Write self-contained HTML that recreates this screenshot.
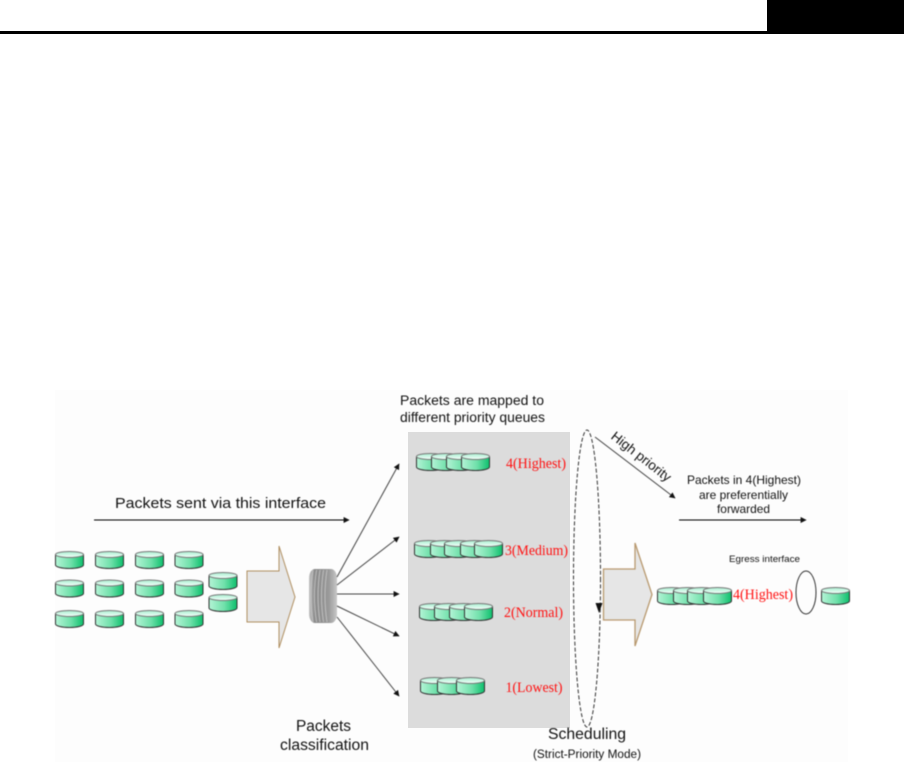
<!DOCTYPE html>
<html><head><meta charset="utf-8"><style>
html,body{margin:0;padding:0;background:#fff;width:904px;height:762px;overflow:hidden}
svg{display:block}
.a{font-family:"Liberation Sans",sans-serif;fill:#111}
.r{font-family:"Liberation Serif",serif;fill:#f11;font-size:14.500px}
.s{filter:blur(.4px)}
</style></head><body>
<svg width="904" height="762" viewBox="0 0 904 762" xmlns="http://www.w3.org/2000/svg">
<defs>
<linearGradient id="g" x1="0" x2="1" y1="0" y2="0"><stop offset="0" stop-color="#b4f4d6"/><stop offset=".55" stop-color="#6fe0aa"/><stop offset="1" stop-color="#0cbf6c"/></linearGradient>
<linearGradient id="t" x1="0" x2="0" y1="0" y2="1"><stop offset="0" stop-color="#a8efd0"/><stop offset="1" stop-color="#f6fffb"/></linearGradient>
<linearGradient id="c" x1="0" x2="1" y1="0" y2="0"><stop offset="0" stop-color="#c4c4c4"/><stop offset=".2" stop-color="#8a8a8a"/><stop offset=".7" stop-color="#999"/><stop offset="1" stop-color="#c8c8c8"/></linearGradient>
<g id="d"><path d="M.5 3.500V14C.5 16 7 17.500 14.500 17.500S28.500 16 28.500 14V3.500Z" fill="url(#g)" stroke="#333" stroke-width="1"/><ellipse cx="14.500" cy="3.500" rx="14" ry="3" fill="url(#t)" stroke="#777" stroke-width="1"/></g>
<marker id="m" viewBox="0 0 10 10" refX="9" refY="5" markerWidth="7" markerHeight="6" markerUnits="userSpaceOnUse" orient="auto"><path d="M0 0L10 5L0 10Z" fill="#111"/></marker>
</defs>
<rect x="55" y="390" width="793" height="372" fill="#fdfdfd"/>
<rect x="0" y="31" width="904" height="3" fill="#000"/>
<rect x="767" y="0" width="137" height="34" fill="#000"/>
<rect x="408" y="432" width="162" height="296" fill="#dcdcdc"/>
<g class="s">
<use href="#d" x="55" y="551"/><use href="#d" x="95" y="551"/><use href="#d" x="135" y="551"/><use href="#d" x="174.500" y="551"/>
<use href="#d" x="55" y="579.500"/><use href="#d" x="95" y="579.500"/><use href="#d" x="135" y="579.500"/><use href="#d" x="174.500" y="579.500"/>
<use href="#d" x="55" y="610"/><use href="#d" x="95" y="610"/><use href="#d" x="135" y="610"/><use href="#d" x="174.500" y="610"/>
<use href="#d" x="208.500" y="572"/><use href="#d" x="208.500" y="594"/>

<polygon points="247,571 279,571 279,546 295,597 279,648 279,622 247,622" fill="#e6e6e6" stroke="#b08f60" stroke-width="1"/>
<polygon points="603.500,569 635,569 635,543 652,594.500 635,646 635,620 603.500,620" fill="#e6e6e6" stroke="#b8996f" stroke-width="1.300"/>

<rect x="309" y="569" width="28" height="54" rx="6" ry="9" fill="url(#c)"/>
<g stroke="#c8c8c8" stroke-width=".8" fill="none"><path d="M313 570Q309 596 313 622M316.500 570Q312.500 596 316.500 622M320 570Q316 596 320 622M323.500 570Q319.500 596 323.500 622M327 570Q323 596 327 622"/></g>

<g stroke="#444" stroke-width="1" fill="none">
<line x1="337" y1="577" x2="399" y2="464" marker-end="url(#m)"/>
<line x1="337" y1="585" x2="399" y2="537" marker-end="url(#m)"/>
<line x1="337" y1="594" x2="399" y2="594" marker-end="url(#m)"/>
<line x1="337" y1="606" x2="399" y2="636" marker-end="url(#m)"/>
<line x1="337" y1="617" x2="399" y2="696" marker-end="url(#m)"/>
<line x1="94" y1="520" x2="349" y2="520" stroke="#000" marker-end="url(#m)"/>
<line x1="679" y1="520" x2="806" y2="520" stroke="#000" marker-end="url(#m)"/>
<line x1="595" y1="437" x2="675" y2="498" marker-end="url(#m)"/>
</g>

<use href="#d" x="416" y="453"/><use href="#d" x="431" y="453"/><use href="#d" x="446" y="453"/><use href="#d" x="461" y="453"/>
<use href="#d" x="414" y="540"/><use href="#d" x="430" y="540"/><use href="#d" x="444" y="540"/><use href="#d" x="460" y="540"/><use href="#d" x="474" y="540"/>
<use href="#d" x="419" y="603"/><use href="#d" x="434" y="603"/><use href="#d" x="449" y="603"/><use href="#d" x="464" y="603"/>
<use href="#d" x="420" y="677"/><use href="#d" x="437" y="677"/><use href="#d" x="456" y="677"/>
<use href="#d" x="657" y="587"/><use href="#d" x="673" y="587"/><use href="#d" x="687" y="587"/><use href="#d" x="703" y="587"/>
<use href="#d" x="821" y="587"/>

<ellipse cx="587" cy="578.500" rx="13.500" ry="148.500" fill="none" stroke="#333" stroke-width="1" stroke-dasharray="4 2"/>
<polygon points="595.500,603 602.500,603 599,613" fill="#111"/>
<ellipse cx="806" cy="592.500" rx="10" ry="21.500" fill="none" stroke="#333" stroke-width="1"/>

<text class="a" x="115" y="508" font-size="15" textLength="211" lengthAdjust="spacingAndGlyphs">Packets sent via this interface</text>
<text class="a" x="400" y="405" font-size="13.500" textLength="144" lengthAdjust="spacingAndGlyphs">Packets are mapped to</text>
<text class="a" x="400" y="422" font-size="13.500" textLength="145" lengthAdjust="spacingAndGlyphs">different priority queues</text>
<text class="a" x="296" y="731" font-size="15.500" textLength="55" lengthAdjust="spacingAndGlyphs">Packets</text>
<text class="a" x="280" y="750" font-size="15.500" textLength="89" lengthAdjust="spacingAndGlyphs">classification</text>
<text class="a" x="548" y="739" font-size="16" textLength="78" lengthAdjust="spacingAndGlyphs">Scheduling</text>
<text class="a" x="533" y="758" font-size="11.500" textLength="108" lengthAdjust="spacingAndGlyphs">(Strict-Priority Mode)</text>
<text class="a" transform="translate(641 457) rotate(38)" x="0" y="4" font-size="13.500" text-anchor="middle">High priority</text>
<text class="a" x="687" y="484" font-size="12" textLength="114" lengthAdjust="spacingAndGlyphs">Packets in 4(Highest)</text>
<text class="a" x="699" y="499" font-size="12" textLength="89" lengthAdjust="spacingAndGlyphs">are preferentially</text>
<text class="a" x="717" y="513" font-size="12" textLength="53" lengthAdjust="spacingAndGlyphs">forwarded</text>
<text class="a" x="729" y="562" font-size="9" textLength="71" lengthAdjust="spacingAndGlyphs">Egress interface</text>

<text class="r" x="506" y="468" textLength="60" lengthAdjust="spacingAndGlyphs">4(Highest)</text>
<text class="r" x="505" y="555" textLength="63" lengthAdjust="spacingAndGlyphs">3(Medium)</text>
<text class="r" x="504" y="617" textLength="59" lengthAdjust="spacingAndGlyphs">2(Normal)</text>
<text class="r" x="505.500" y="692" textLength="57" lengthAdjust="spacingAndGlyphs">1(Lowest)</text>
<text class="r" x="733" y="599" textLength="60" lengthAdjust="spacingAndGlyphs">4(Highest)</text>
</g>
</svg>
</body></html>
